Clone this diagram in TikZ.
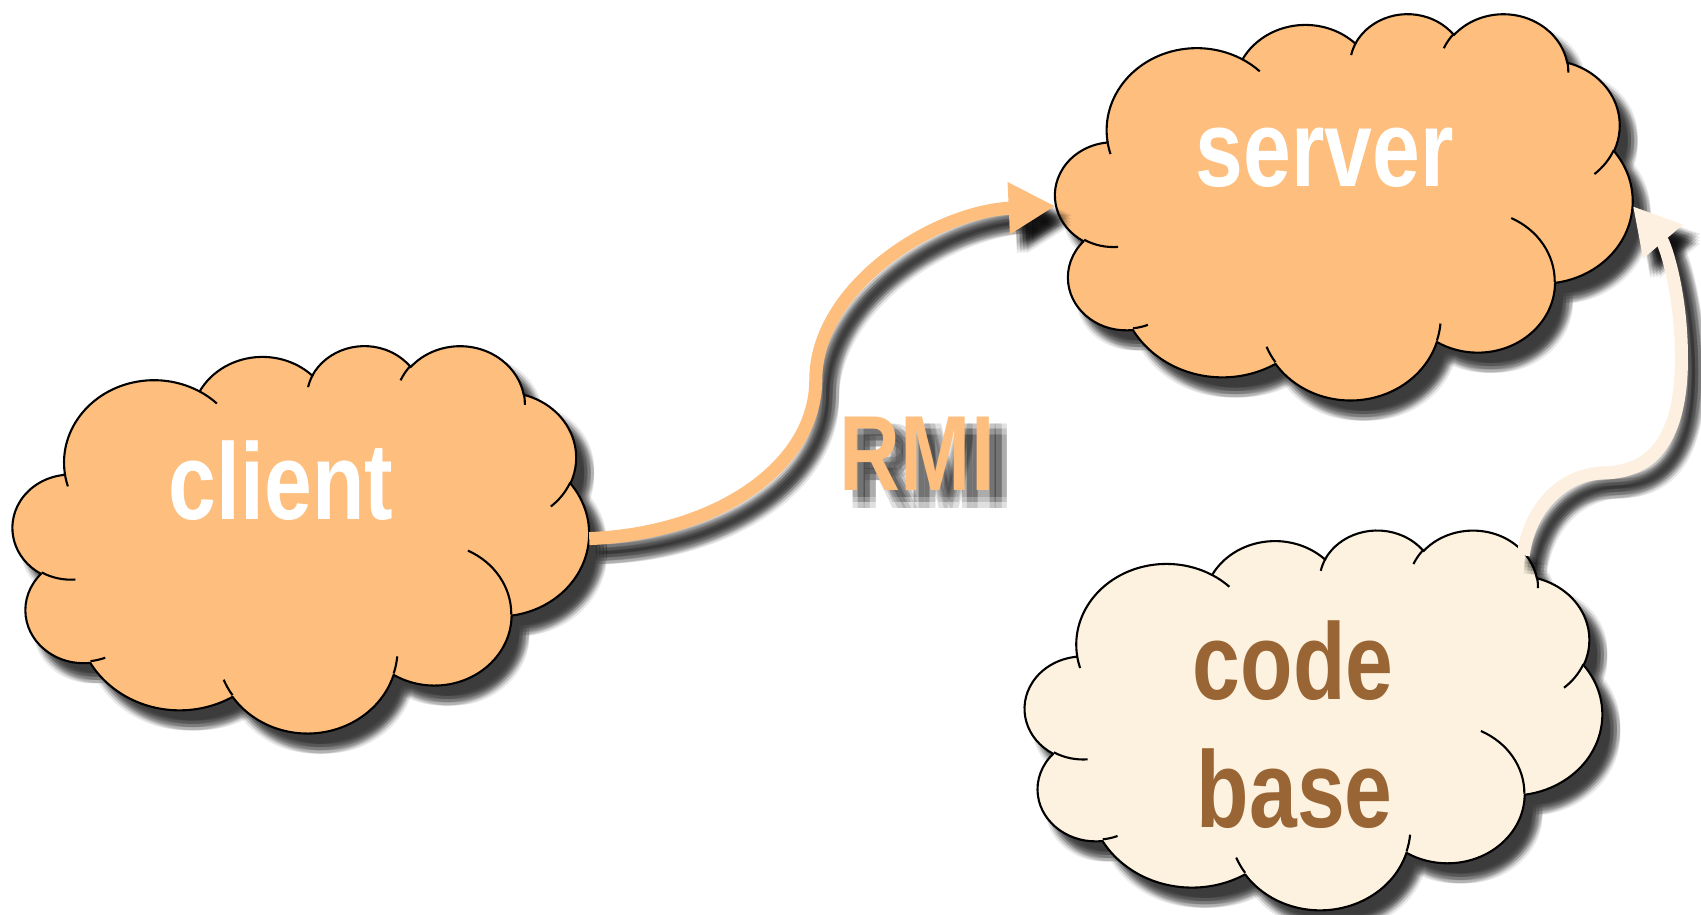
\documentclass[tikz,border=0pt]{standalone}
\usepackage{fontspec}
\newfontfamily\cloudfont{Liberation Sans}[FakeStretch=0.79]
\usetikzlibrary{arrows.meta,calc}

\definecolor{cloudorange}{RGB}{253,190,126}
\definecolor{cloudcream}{RGB}{252,242,223}
\definecolor{arrowcream}{RGB}{254,240,224}
\definecolor{codebrown}{RGB}{153,101,52}

% One elliptical arc of the cloud outline.
% #1,#2: radii; #3: start angle, #4: sweep (both measured as seen on the ellipse)
\newcommand\cloudarc[4]{%
  \pgfextra{%
    \pgfmathparse{atan2((#1)*sin(#3),(#2)*cos(#3))}\xdef\cloudts{\pgfmathresult}%
    \pgfmathparse{atan2((#1)*sin(#3+#4),(#2)*cos(#3+#4))}\xdef\cloudte{\pgfmathresult}%
    \pgfmathparse{\cloudts+Mod(\cloudte-\cloudts,360)}\xdef\cloudte{\pgfmathresult}%
  }%
  arc[x radius=#1, y radius=#2, start angle=\cloudts, end angle=\cloudte]%
}

% Cloud outline in a 432 x 432 box, y pointing down
\newcommand\cloudoutline{%
  (39,143.7)
  \cloudarc{67.53}{91.90}{-190.48748}{123.78053}
  \cloudarc{53.33}{72.67}{-144.10238}{89.94523}
  \cloudarc{43.65}{59.45}{-145.80792}{99.72302}
  \cloudarc{48.57}{65.95}{-130.98607}{117.24173}
  \cloudarc{53.33}{72.73}{-78.70888}{109.02692}
  \cloudarc{67.75}{92.20}{-46.26725}{130.269}
  \cloudarc{57.85}{78.67}{0.62502}{114.03333}
  \cloudarc{67.52}{92.15}{22.4516}{115.17255}
  \cloudarc{77.20}{105.43}{66.24263}{75.71102}
  \cloudarc{43.60}{59.18}{-274.94208}{146.73557}
  \cloudarc{43.45}{59.45}{-246.8285}{152.51885}
  -- cycle}

% The short creases inside the cloud
\newcommand\cloudcreases{%
  (46.93,261.77) \cloudarc{43.45}{59.45}{86.742}{26.4295}
  (69.28,348.99) \cloudarc{43.60}{59.18}{73.61047}{11.44747}
  (164.78,390.90) \cloudarc{67.52}{92.15}{137.62415}{14.0811}
  (288.27,347.51) \cloudarc{67.52}{92.15}{6.45327}{15.99835}
  (341.29,229.54) \cloudarc{57.85}{78.67}{-70.29235}{70.91737}
  (417.98,153.54) \cloudarc{53.33}{72.73}{30.31803}{27.7515}
  (383.24,54.26) \cloudarc{48.57}{65.95}{-13.74433}{14.8589}
  (290.78,39.52) \cloudarc{48.57}{65.95}{-149.18145}{18.19537}
  (221.41,47.20) \cloudarc{43.65}{59.45}{-163.49427}{17.68635}
  (140.00,51.92) \cloudarc{67.53}{91.90}{-66.70695}{12.31935}
  (41.27,157.89) \cloudarc{67.53}{91.90}{157.65435}{11.85817}}

% Soft drop shadow of a cloud (node, width, height):
% the offset outline is filled several times with a small jitter
\newcommand\cloudshadow[3]{%
  \foreach \jx in {-4.5,-1.5,1.5,4.5}{%
    \foreach \jy in {-4.5,-1.5,1.5,4.5}{%
      \begin{scope}[transform canvas={shift={(12+\jx,14+\jy)}}]
        \begin{scope}[shift={(#1.north west)}, xscale=#2/432, yscale=#3/432]
          \fill[black, opacity=0.083] \cloudoutline;
        \end{scope}
      \end{scope}}}}

% Cloud body: node, width, height, fill colour
\newcommand\cloudbody[4]{%
  \begin{scope}[shift={(#1.north west)}, xscale=#2/432, yscale=#3/432]
    \path[fill=#4, cloudline] \cloudoutline;
    \path[cloudline] \cloudcreases;
  \end{scope}}

\begin{document}
\begin{tikzpicture}[x=0.01cm, y=-0.01cm,
  cloudbox/.style={rectangle, draw=none, inner sep=0pt, outer sep=0pt},
  cloudline/.style={draw=black, line width=0.55pt, line join=round},
  labelfont/.style={font=\cloudfont\bfseries\fontsize{28.5}{34}\selectfont, inner sep=0pt, anchor=base},
  rmifont/.style={font=\cloudfont\bfseries\fontsize{28}{34}\selectfont, inner sep=0pt, anchor=base},
  flowarrow/.style={line width=1.2mm, -{Triangle[length=4.3mm, width=4.5mm]}},
  arrowshadow/.style={draw=black, opacity=0.085, line width=1.2mm,
    -{Triangle[length=4.3mm, width=4.5mm]}}
]
\useasboundingbox (0,0) rectangle (1568,843);
\fill[white] (0,0) rectangle (1568,843);

% cloud frames
\node[cloudbox, minimum width=5.31cm, minimum height=3.57cm] (client) at (277.5,496.5) {};
\node[cloudbox, minimum width=5.32cm, minimum height=3.56cm] (server) at (1239,190) {};
\node[cloudbox, minimum width=5.32cm, minimum height=3.50cm] (codebase) at (1211,663) {};

% shadows, then clouds
\cloudshadow{client}{531}{357}
\cloudshadow{server}{532}{356}
\cloudshadow{codebase}{532}{350}
\cloudbody{client}{531}{357}{cloudorange}
\cloudbody{server}{532}{356}{cloudorange}
\cloudbody{codebase}{532}{350}{cloudcream}

% connector routes
\coordinate (cb-out) at ($(codebase.north east)+(-73,24)$);

% connector shadows
\foreach \jx in {-4.5,-1.5,1.5,4.5}{%
  \foreach \jy in {-4.5,-1.5,1.5,4.5}{%
    \begin{scope}[transform canvas={shift={(11+\jx,13+\jy)}}]
      \draw[arrowshadow] (client.east) .. controls (660,492) and (752,430) .. (752,350)
        .. controls (752,265) and (860,195) .. (server.west);
      \draw[arrowshadow] (cb-out) .. controls (1410,468) and (1440,437) .. (1478,436)
        .. controls (1530,435) and (1550,395) .. (1550,330)
        .. controls (1550,270) and (1535,225) .. (server.east);
    \end{scope}}}

% connectors
\draw[flowarrow, draw=cloudorange] (client.east) .. controls (660,492) and (752,430) .. (752,350)
  .. controls (752,265) and (860,195) .. (server.west);
\draw[flowarrow, draw=arrowcream] (cb-out) .. controls (1410,468) and (1440,437) .. (1478,436)
  .. controls (1530,435) and (1550,395) .. (1550,330)
  .. controls (1550,270) and (1535,225) .. (server.east);

% labels
\node[labelfont, text=white] (client-label) at (259,478.6) {client};
\node[labelfont, text=white] (server-label) at (1221,172) {server};
\node[labelfont, text=codebrown] (code-label) at (1192,645) {code};
\node[labelfont, text=codebrown] (base-label) at (1193.5,763) {base};

% soft shadow behind the RMI label
\foreach \dx in {7,12,17}{%
  \foreach \dy in {6,11,16}{%
    \node[rmifont, text=black, opacity=0.12] (rmi-shadow-\dx-\dy) at (845.5+\dx,452.6+\dy) {RMI};}}
\node[rmifont, text=cloudorange] (rmi-label) at (845.5,452.6) {RMI};
\end{tikzpicture}
\end{document}
